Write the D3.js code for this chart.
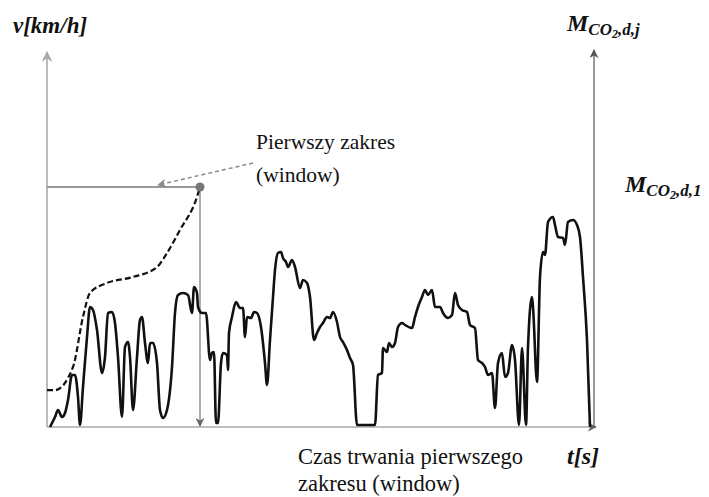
<!DOCTYPE html>
<html>
<head>
<meta charset="utf-8">
<script src="https://cdn.jsdelivr.net/npm/d3@7"></script>
<style>
  body { margin: 0; background: #fff; }
  #chart text { font-family: "Liberation Serif", "Times New Roman", serif; fill: #111; }
</style>
</head>
<body>
<div id="chart"></div>
<script>
// speed trace: time [s] and speed [km/h]
var speedT = [6, 16, 22, 30, 36, 42, 50, 56, 62, 66, 72, 80, 86, 92, 100, 110, 116, 122, 130, 136,
  142, 150, 156, 162, 166, 172, 180, 186, 190, 196, 202, 206, 212, 220, 226, 232, 240, 250, 256, 262,
  272, 282, 290, 294, 300, 302, 310, 318, 326, 330, 334, 338, 342, 348, 352, 360, 362, 364, 370, 378,
  386, 392, 396, 400, 408, 414, 420, 428, 436, 440, 446, 452, 456, 462, 468, 472, 478, 482, 490, 496,
  506, 512, 520, 526, 534, 540, 546, 552, 560, 566, 572, 580, 586, 592, 600, 606, 612, 620, 656, 662,
  670, 672, 680, 684, 690, 696, 702, 710, 716, 730, 736, 742, 750, 756, 762, 770, 776, 786, 792, 802,
  810, 816, 822, 830, 840, 846, 856, 862, 870, 876, 882, 890, 896, 902, 910, 916, 922, 930, 936, 944,
  950, 958, 962, 970, 972, 980, 986, 992, 996, 1002, 1012, 1016, 1022, 1032, 1036, 1042, 1052, 1060, 1066, 1072,
  1080, 1086];
var speedV = [0, 5, 8.5, 5, 7, 13.5, 26, 26, 15, 1, 20, 45, 60, 58.5, 48.5, 27, 35, 57, 57.5, 52,
  35, 5, 40, 42.5, 35, 8.5, 35, 53.5, 55, 42, 32, 42, 42, 32, 8.5, 4.5, 8.5, 30, 57, 66,
  67, 66, 57, 70, 67, 60, 57, 57, 33.5, 37, 37.5, 2, 2, 32, 37, 36, 28.5, 47, 55, 62.5,
  59.5, 59.5, 45, 55, 54.5, 57.5, 57, 50, 32, 21, 43.5, 65, 78.5, 87, 87.5, 84.5, 82.5, 80, 83.5, 80,
  69.5, 73.5, 72, 65, 43.5, 47, 50, 52, 55, 54.5, 57.5, 52.5, 45, 42.5, 38.5, 34.5, 31, 1, 1, 26,
  27, 39.5, 37.5, 42, 40, 42, 50, 52, 51, 49.5, 55, 60, 65, 68.5, 66, 68.5, 60, 60, 57, 54.5,
  56, 67, 61, 58.5, 57.5, 51, 49.5, 33.5, 32, 30, 26, 27, 9.5, 32, 37, 25, 27, 41, 33.5, 1,
  39.5, 1, 40, 65, 60, 22.5, 75, 87.5, 86, 102.5, 105, 101, 95, 94.5, 91, 102.5, 103.5, 101, 95, 75,
  43.5, 0];

// cumulative CO2 mass over the first window
var massT = [0, 16, 52, 72, 86, 120, 172, 220, 240, 266, 300, 306];
var massM = [12.3, 12.3, 20, 36.7, 44.7, 48, 50, 53.3, 58, 65.7, 76.7, 80];

var windowEnd = 306;
var windowMass = 80;

var width = 709, height = 497;
var svg = d3.select("#chart").append("svg")
    .attr("width", width)
    .attr("height", height);

var x = d3.scaleLinear().domain([0, 1094]).range([47, 594]);
var y = d3.scaleLinear().domain([0, 187.5]).range([427, 52]);
var yM = d3.scaleLinear().domain([0, 125]).range([427, 52]);

var defs = svg.append("defs");
function marker(id, color, size) {
    defs.append("marker")
        .attr("id", id)
        .attr("viewBox", "0 0 10 10")
        .attr("refX", 9).attr("refY", 5)
        .attr("markerWidth", size).attr("markerHeight", size)
        .attr("markerUnits", "userSpaceOnUse")
        .attr("orient", "auto")
      .append("path")
        .attr("d", "M0,0 L10,5 L0,10 L3,5 Z")
        .attr("fill", color);
}
marker("arrLeft", "#aaa", 11);
marker("arrRight", "#555", 9);
marker("arrGray", "#888", 9);
marker("arrBottom", "#666", 9);

// axes
svg.append("line")
    .attr("x1", x(0)).attr("y1", y(0)).attr("x2", x(0)).attr("y2", 52)
    .attr("stroke", "#bbb").attr("stroke-width", 2)
    .attr("marker-end", "url(#arrLeft)");
svg.append("line")
    .attr("x1", x(0)).attr("y1", y(0)).attr("x2", 596).attr("y2", y(0))
    .attr("stroke", "#aaa").attr("stroke-width", 1.5)
    .attr("marker-end", "url(#arrBottom)");
svg.append("line")
    .attr("x1", 594).attr("y1", y(0)).attr("x2", 594).attr("y2", 50)
    .attr("stroke", "#555").attr("stroke-width", 1.2)
    .attr("marker-end", "url(#arrRight)");

// window markers
svg.append("line")
    .attr("x1", x(0)).attr("x2", x(windowEnd))
    .attr("y1", yM(windowMass)).attr("y2", yM(windowMass))
    .attr("stroke", "#999").attr("stroke-width", 2);
svg.append("line")
    .attr("x1", x(windowEnd)).attr("x2", x(windowEnd))
    .attr("y1", yM(windowMass)).attr("y2", y(0) - 1)
    .attr("stroke", "#777").attr("stroke-width", 1.2)
    .attr("marker-end", "url(#arrBottom)");

// speed line
var speed = speedT.map(function(t, i) { return [t, speedV[i]]; });
svg.append("path")
    .datum(speed)
    .attr("fill", "none")
    .attr("stroke", "#111")
    .attr("stroke-width", 2.6)
    .attr("stroke-linejoin", "round")
    .attr("d", d3.line()
        .curve(d3.curveMonotoneX)
        .x(function(d) { return x(d[0]); })
        .y(function(d) { return y(d[1]); }));

// cumulative mass (dashed)
var mass = massT.map(function(t, i) { return [t, massM[i]]; });
svg.append("path")
    .datum(mass)
    .attr("fill", "none")
    .attr("stroke", "#111")
    .attr("stroke-width", 2.2)
    .attr("stroke-dasharray", "6,3")
    .attr("d", d3.line()
        .curve(d3.curveMonotoneX)
        .x(function(d) { return x(d[0]); })
        .y(function(d) { return yM(d[1]); }));

svg.append("circle")
    .attr("cx", x(windowEnd)).attr("cy", yM(windowMass))
    .attr("r", 4.5).attr("fill", "#777");

// annotation arrow
svg.append("line")
    .attr("x1", 253).attr("y1", 163).attr("x2", 158).attr("y2", 185)
    .attr("stroke", "#888").attr("stroke-width", 1.5)
    .attr("stroke-dasharray", "4,3")
    .attr("marker-end", "url(#arrGray)");

// texts
svg.append("text").attr("x", 256).attr("y", 149).attr("font-size", 21.5).text("Pierwszy zakres");
svg.append("text").attr("x", 256).attr("y", 182).attr("font-size", 21.5).text("(window)");
svg.append("text").attr("x", 298).attr("y", 464).attr("font-size", 22.5).text("Czas trwania pierwszego");
svg.append("text").attr("x", 298).attr("y", 491).attr("font-size", 22.5).text("zakresu (window)");

svg.append("text").attr("x", 13).attr("y", 33)
    .attr("font-size", 23).attr("font-weight", "bold").attr("font-style", "italic")
    .text("v[km/h]");
svg.append("text").attr("x", 567).attr("y", 464)
    .attr("font-size", 24).attr("font-weight", "bold").attr("font-style", "italic")
    .text("t[s]");

function massLabel(xp, yp, sub) {
    var t = svg.append("text").attr("x", xp).attr("y", yp)
        .attr("font-weight", "bold").attr("font-style", "italic");
    t.append("tspan").attr("font-size", 24).text("M");
    t.append("tspan").attr("font-size", 17).attr("dy", 4).text("CO");
    t.append("tspan").attr("font-size", 12).attr("dy", 3).text("2");
    t.append("tspan").attr("font-size", 17).attr("dy", -3).text(sub);
}
massLabel(567, 31, ",d,j");
massLabel(625, 192, ",d,1");
</script>
</body>
</html>
